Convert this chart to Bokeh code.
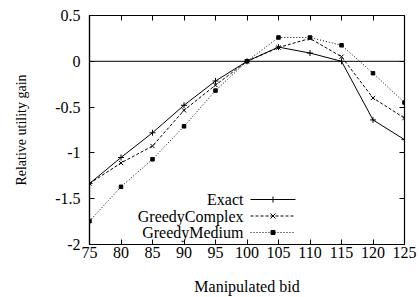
from bokeh.plotting import figure
from bokeh.models import (Span, FixedTicker, Range1d, LinearAxis, CustomJSTickFormatter,
                          Label, Arrow, BoxAnnotation)
from bokeh.embed import file_html
from bokeh.resources import INLINE

bids = [75, 80, 85, 90, 95, 100, 105, 110, 115, 120, 125]
exact = [-1.335, -1.05, -0.78, -0.48, -0.215, 0.0, 0.155, 0.09, 0.0, -0.64, -0.855]
greedy_complex = [-1.335, -1.11, -0.925, -0.535, -0.26, 0.0, 0.15, 0.25, 0.05, -0.40, -0.62]
greedy_medium = [-1.745, -1.37, -1.07, -0.71, -0.32, 0.0, 0.26, 0.26, 0.175, -0.13, -0.45]
x_ticks = [75, 80, 85, 90, 95, 100, 105, 110, 115, 120, 125]
y_ticks = [0.5, 0, -0.5, -1, -1.5, -2]
y_tick_labels = ["0.5", "0", "-0.5", "-1", "-1.5", "-2"]
series_names = ["Exact", "GreedyComplex", "GreedyMedium"]

FONT = "'Liberation Serif', 'Times New Roman', serif"
FS = "16px"

p = figure(width=419, height=297, output_backend="svg", toolbar_location=None,
           x_range=Range1d(75, 125), y_range=Range1d(-2, 0.5),
           min_border_left=89, min_border_right=15, min_border_top=15, min_border_bottom=53)
p.background_fill_color = None
p.border_fill_color = "white"
p.outline_line_color = "black"
p.outline_line_width = 1.2
p.grid.visible = False

for ax in [p.xaxis[0], p.yaxis[0]]:
    ax.major_tick_in = 5
    ax.major_tick_out = 0
    ax.minor_tick_line_color = None
    ax.axis_line_color = "black"
    ax.axis_line_width = 1.2
    ax.major_label_text_font = FONT
    ax.major_label_text_font_size = FS
    ax.major_label_text_color = "black"
    ax.axis_label_text_font = FONT
    ax.axis_label_text_font_size = FS
    ax.axis_label_text_font_style = "normal"
    ax.axis_label_text_color = "black"

p.xaxis.ticker = FixedTicker(ticks=x_ticks)
p.yaxis.ticker = FixedTicker(ticks=y_ticks)
p.yaxis.major_label_overrides = {t: l for t, l in zip(y_ticks, y_tick_labels)}
p.xaxis.axis_label = "Manipulated bid"
p.yaxis.axis_label = "Relative utility gain"
p.yaxis.axis_label_text_font_size = "14px"
p.yaxis.axis_label_standoff = 23
p.xaxis.axis_label_standoff = 17
p.xaxis.major_label_standoff = 2
p.yaxis.major_label_standoff = 9

# mirrored ticks on top and right (no labels)
blank = CustomJSTickFormatter(code="return ''")
top = LinearAxis(ticker=FixedTicker(ticks=x_ticks), formatter=blank,
                 major_tick_in=5, major_tick_out=0, minor_tick_line_color=None,
                 axis_line_color=None, major_label_standoff=0)
right = LinearAxis(ticker=FixedTicker(ticks=y_ticks), formatter=blank,
                   major_tick_in=5, major_tick_out=0, minor_tick_line_color=None,
                   axis_line_color=None, major_label_standoff=0)
p.add_layout(top, "above")
p.add_layout(right, "right")

p.add_layout(Span(location=0, dimension="width", line_color="black", line_width=1))

p.line(bids, exact, line_color="black", line_width=1)
p.scatter(bids, exact, marker="cross", size=6, line_color="black", line_width=1)
p.line(bids, greedy_complex, line_color="black", line_width=1, line_dash="3 2")
p.scatter(bids, greedy_complex, marker="x", size=6, line_color="black", line_width=1)
p.line(bids, greedy_medium, line_color="black", line_width=1, line_dash="1 2")
p.scatter(bids, greedy_medium, marker="square", size=3.5, line_color="black", fill_color="black")

# gnuplot-style key: label on the left, sample on the right (screen units, frame-relative)
dashes = ["solid", "3 2", "1 2"]
row_y = [45, 28.5, 12]
gx0, gx1, gxc = 161, 206, 183.5
for i, name in enumerate(series_names):
    yc = row_y[i]
    p.add_layout(Label(x=154, y=yc, x_units="screen", y_units="screen", text=name,
                       text_align="right", text_baseline="middle", text_font=FONT,
                       text_font_size=FS, text_color="black"))
    p.add_layout(Arrow(end=None, x_start=gx0, x_end=gx1, y_start=yc, y_end=yc,
                       start_units="screen", end_units="screen", line_color="black",
                       line_width=1, line_dash=dashes[i]))
    if i == 0:
        segs = [(gxc - 3, yc, gxc + 3, yc), (gxc, yc - 3, gxc, yc + 3)]
    elif i == 1:
        segs = [(gxc - 2.5, yc - 2.5, gxc + 2.5, yc + 2.5), (gxc - 2.5, yc + 2.5, gxc + 2.5, yc - 2.5)]
    else:
        segs = []
        p.add_layout(BoxAnnotation(left=gxc - 2, right=gxc + 2, bottom=yc - 2, top=yc + 2,
                                   left_units="screen", right_units="screen",
                                   bottom_units="screen", top_units="screen",
                                   fill_color="black", fill_alpha=1, line_color="black",
                                   line_alpha=1))
    for (a, b, c, d) in segs:
        p.add_layout(Arrow(end=None, x_start=a, y_start=b, x_end=c, y_end=d,
                           start_units="screen", end_units="screen",
                           line_color="black", line_width=1))

open("out.html", "w").write(file_html(p, INLINE))
